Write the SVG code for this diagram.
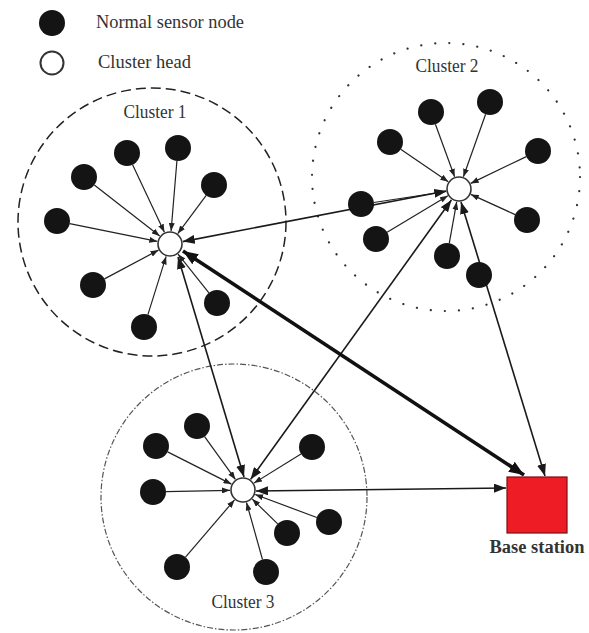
<svg xmlns="http://www.w3.org/2000/svg" width="589" height="633" viewBox="0 0 589 633">
<style>
.txt{font-family:"Liberation Serif","Times New Roman",serif;font-size:18px;fill:#333}
.sn{fill:#141414}
.ch{fill:#fff;stroke:#333;stroke-width:1.6}
.a{stroke:#222;stroke-width:1.2;fill:none;marker-end:url(#ah)}
.l{stroke:#1a1a1a;stroke-width:1.6;fill:none;marker-start:url(#am);marker-end:url(#am)}
.t{stroke:#111;stroke-width:3.6;fill:none;marker-start:url(#al);marker-end:url(#al)}
</style>
<defs>
<marker id="ah" markerUnits="userSpaceOnUse" markerWidth="8" markerHeight="6" refX="8" refY="3" orient="auto"><path d="M0,0 L8,3 L0,6 z" fill="#222"/></marker>
<marker id="am" markerUnits="userSpaceOnUse" markerWidth="12" markerHeight="9" refX="12" refY="4.5" orient="auto-start-reverse"><path d="M0,0 L12,4.5 L0,9 z" fill="#1a1a1a"/></marker>
<marker id="al" markerUnits="userSpaceOnUse" markerWidth="15" markerHeight="12" refX="15" refY="6" orient="auto-start-reverse"><path d="M0,0 L15,6 L0,12 z" fill="#111"/></marker>
</defs>
<rect width="589" height="633" fill="#fff"/>

<g id="legend">
<circle cx="52" cy="23" r="13" class="sn"/>
<text x="96" y="28" class="txt" textLength="148" lengthAdjust="spacingAndGlyphs">Normal sensor node</text>
<circle cx="52" cy="63" r="11.5" fill="#fff" stroke="#333" stroke-width="2"/>
<text x="98" y="68" class="txt" textLength="93" lengthAdjust="spacingAndGlyphs">Cluster head</text>
</g>

<g id="cluster-boundaries" fill="none">
<circle id="cluster1-boundary" cx="152" cy="222" r="134" stroke="#222" stroke-width="1.5" stroke-dasharray="10 5"/>
<circle id="cluster2-boundary" cx="446" cy="177" r="134" stroke="#333" stroke-width="2.2" stroke-dasharray="0.1 14" stroke-linecap="round"/>
<circle id="cluster3-boundary" cx="234" cy="497" r="133" stroke="#555" stroke-width="1.2" stroke-dasharray="6 2 1.5 2"/>
</g>

<g id="connectors">
<!-- cluster 1 members -->
<line x1="132.6" y1="164.8" x2="164.4" y2="232.2" class="a"/>
<line x1="176.9" y1="161" x2="171.1" y2="231" class="a"/>
<line x1="94.3" y1="185" x2="159.7" y2="236" class="a"/>
<line x1="206.2" y1="195.4" x2="177.8" y2="233.6" class="a"/>
<line x1="69.7" y1="223.6" x2="157.3" y2="241.4" class="a"/>
<line x1="104.5" y1="278.9" x2="158.5" y2="250.1" class="a"/>
<line x1="208.9" y1="292.8" x2="178.1" y2="254.2" class="a"/>
<line x1="147.9" y1="314.6" x2="166.1" y2="256.4" class="a"/>
<!-- cluster 2 members -->
<line x1="435.4" y1="124.2" x2="454.6" y2="176.8" class="a"/>
<line x1="485.6" y1="114.2" x2="463.4" y2="176.8" class="a"/>
<line x1="400.7" y1="149.3" x2="448.3" y2="181.7" class="a"/>
<line x1="526.3" y1="156.6" x2="470.7" y2="183.4" class="a"/>
<line x1="373.9" y1="202.5" x2="446.1" y2="191.5" class="a"/>
<line x1="387.1" y1="232.3" x2="447.9" y2="195.7" class="a"/>
<line x1="515.2" y1="214.6" x2="470.8" y2="194.4" class="a"/>
<line x1="449.3" y1="243.2" x2="456.7" y2="201.8" class="a"/>
<!-- cluster 3 members -->
<line x1="204.6" y1="436.6" x2="235.4" y2="479.4" class="a"/>
<line x1="167.6" y1="451.9" x2="231.4" y2="484.1" class="a"/>
<line x1="301" y1="453.9" x2="254" y2="483.1" class="a"/>
<line x1="166" y1="491.7" x2="230" y2="490.3" class="a"/>
<line x1="316.8" y1="517.5" x2="255.2" y2="494.5" class="a"/>
<line x1="277.7" y1="523.9" x2="252.3" y2="499.1" class="a"/>
<line x1="185.5" y1="557.1" x2="234.5" y2="499.9" class="a"/>
<line x1="262.5" y1="559.5" x2="246.5" y2="502.5" class="a"/>
<!-- inter-cluster links -->
<line x1="182.8" y1="241.6" x2="446.2" y2="191" class="l"/>
<line x1="178" y1="257" x2="244" y2="477" class="l"/>
<line x1="451.4" y1="200" x2="250.6" y2="479.4" class="l"/>
<line x1="256" y1="491" x2="506" y2="488" class="l"/>
<line x1="461" y1="202" x2="545" y2="476" class="l"/>
<line x1="183" y1="251" x2="524" y2="475" class="t"/>
</g>

<g id="cluster1">
<text x="155" y="118" class="txt" font-size="17" text-anchor="middle" textLength="63" lengthAdjust="spacingAndGlyphs">Cluster 1</text>
<circle cx="127" cy="153" r="13" class="sn"/>
<circle cx="178" cy="148" r="13" class="sn"/>
<circle cx="84" cy="177" r="13" class="sn"/>
<circle cx="214" cy="185" r="13" class="sn"/>
<circle cx="57" cy="221" r="13" class="sn"/>
<circle cx="93" cy="285" r="13" class="sn"/>
<circle cx="217" cy="303" r="13" class="sn"/>
<circle cx="144" cy="327" r="13" class="sn"/>
<circle id="ch1" cx="170" cy="244" r="12" class="ch"/>
</g>

<g id="cluster2">
<text x="447" y="72" class="txt" font-size="17" text-anchor="middle" textLength="63" lengthAdjust="spacingAndGlyphs">Cluster 2</text>
<circle cx="431" cy="112" r="13" class="sn"/>
<circle cx="490" cy="102" r="13" class="sn"/>
<circle cx="390" cy="142" r="13" class="sn"/>
<circle cx="538" cy="151" r="13" class="sn"/>
<circle cx="361" cy="204" r="13" class="sn"/>
<circle cx="376" cy="239" r="13" class="sn"/>
<circle cx="527" cy="220" r="13" class="sn"/>
<circle cx="447" cy="256" r="13" class="sn"/>
<circle cx="479" cy="275" r="13" class="sn"/>
<circle id="ch2" cx="459" cy="189" r="12" class="ch"/>
</g>

<g id="cluster3">
<text x="243" y="608" class="txt" font-size="17" text-anchor="middle" textLength="63" lengthAdjust="spacingAndGlyphs">Cluster 3</text>
<circle cx="197" cy="426" r="13" class="sn"/>
<circle cx="156" cy="446" r="13" class="sn"/>
<circle cx="312" cy="447" r="13" class="sn"/>
<circle cx="153" cy="492" r="13" class="sn"/>
<circle cx="329" cy="522" r="13" class="sn"/>
<circle cx="287" cy="533" r="13" class="sn"/>
<circle cx="177" cy="567" r="13" class="sn"/>
<circle cx="266" cy="572" r="13" class="sn"/>
<circle id="ch3" cx="243" cy="490" r="12" class="ch"/>
</g>

<g id="base-station">
<rect x="507" y="477" width="60" height="56" fill="#ee1c24" stroke="#7a1010" stroke-width="1.2"/>
<text x="537" y="553" class="txt" text-anchor="middle" font-weight="bold" fill="#222" textLength="95" lengthAdjust="spacingAndGlyphs">Base station</text>
</g>
</svg>
